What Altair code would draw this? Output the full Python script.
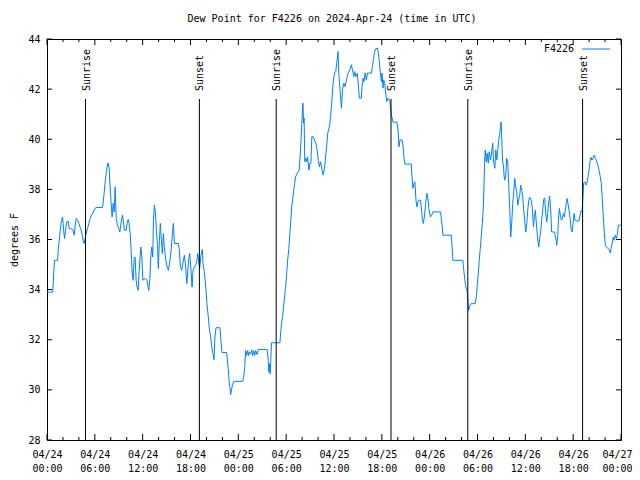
import altair as alt
import pandas as pd

# ---- data (minutes since midnight UTC of each day, dew point F) ----
day1_minutes = [0,42,47,52,57,80,85,92,100,107,117,125,132,140,147,160,167,192,200,205,212,220,230,240,250,258,265,273,280,288,295,305,315,325,335,345,355,368,418,423,430,438,445,453,460,468,475,483,490,498,506,513,521,530,541,548,558,568,575,583,596,603,611,618,626,633,641,648,656,663,671,678,686,693,701,706,714,721,731,751,759,766,774,781,789,796,801,808,816,823,831,838,846,853,861,868,876,883,894,904,914,924,934,944,951,959,989,996,1004,1014,1024,1034,1044,1052,1059,1067,1074,1082,1092,1099,1109,1122,1131,1134,1149,1159,1169,1174,1182,1189,1197,1204,1214,1222,1232,1240,1249,1257,1264,1272,1302,1309,1317,1352,1357,1364,1370,1377,1382,1390,1397,1407]
day1_values = [33.90,33.90,34.24,34.84,35.17,35.17,35.64,35.97,36.37,36.70,36.90,36.37,36.04,36.37,36.70,36.73,36.44,36.41,36.30,36.17,36.57,36.84,36.77,36.64,36.48,36.37,36.17,35.94,35.84,36.08,36.24,36.44,36.64,36.84,36.97,37.06,37.17,37.28,37.28,37.50,37.84,38.30,38.64,38.90,39.06,38.84,38.10,37.44,36.90,37.44,37.10,38.10,36.84,36.57,36.44,36.30,36.70,36.97,36.70,36.37,36.37,36.64,36.80,36.64,36.24,35.57,34.70,34.37,35.24,35.30,34.37,34.10,33.97,34.70,35.30,35.70,35.30,34.37,34.44,34.40,34.17,33.97,34.44,35.30,35.70,35.30,36.77,37.37,37.10,36.37,35.84,34.84,35.97,36.64,35.97,35.44,36.24,35.70,35.17,34.90,34.77,35.10,35.57,36.24,36.64,35.84,35.84,35.57,34.90,34.77,35.10,35.37,34.90,34.24,34.70,35.24,35.44,34.90,34.10,34.77,34.90,35.01,35.24,35.44,34.84,35.37,35.60,35.04,34.77,34.44,33.97,33.44,32.90,32.44,32.10,31.70,31.44,31.20,32.10,32.48,32.48,31.97,31.49,31.49,31.24,30.84,30.37,30.10,29.81,30.04,30.21,30.34]

day2_minutes = [33,40,48,55,63,70,78,85,93,100,108,115,123,130,140,150,217,225,230,235,240,245,250,313,320,328,333,340,348,355,363,370,380,388,395,403,413,420,431,443,458,468,478,486,491,495,500,508,516,521,531,538,546,553,563,573,583,593,603,611,618,626,638,646,653,663,673,688,701,713,724,733,751,756,776,784,794,803,814,826,839,851,859,869,876,884,896,906,911,926,931,939,946,954,964,972,1002,1009,1017,1024,1032,1047,1054,1062,1069,1077,1081,1089,1094,1102,1109,1117,1126,1139,1152,1164,1194,1202,1209,1217,1232,1239,1247,1254,1302,1307,1314,1322,1329,1337,1344,1355,1370,1377,1385,1392,1400,1410,1419,1427,1434]
day2_values = [30.34,30.50,30.90,31.57,31.37,31.57,31.37,31.50,31.44,31.60,31.37,31.57,31.37,31.57,31.41,31.61,31.61,31.17,30.70,31.04,30.64,31.30,31.88,31.88,32.37,32.77,32.90,33.30,33.70,34.04,34.57,35.10,35.64,36.24,36.77,37.37,37.77,38.10,38.50,38.64,38.77,39.57,40.64,41.44,40.64,40.84,39.10,39.24,39.10,39.30,38.77,39.04,39.04,40.10,40.10,39.97,39.84,39.57,39.10,38.90,39.10,38.90,38.57,38.77,39.10,39.64,40.24,40.57,41.30,42.24,42.64,42.70,43.50,42.64,41.24,41.97,42.24,42.10,42.37,42.64,42.77,42.97,42.77,42.50,42.70,42.50,42.64,41.97,41.64,41.64,42.10,42.44,42.30,42.64,42.37,42.64,42.64,42.90,43.17,43.44,43.60,43.64,43.44,43.04,42.64,42.30,42.64,42.04,42.37,42.24,41.84,41.50,41.64,41.57,40.97,40.68,40.68,40.37,39.70,39.97,39.97,39.77,39.24,39.01,39.01,38.50,38.04,38.24,38.30,37.57,37.30,37.57,37.57,37.30,36.84,36.64,36.90,37.44,37.84,37.64,37.24]

day3_minutes = [5,15,25,82,95,100,163,175,250,255,270,283,293,303,313,343,351,358,366,373,381,388,396,403,408,413,418,426,433,441,448,458,468,475,480,490,498,505,513,520,528,533,538,543,548,556,561,565,573,580,588,595,603,610,618,625,633,640,648,655,663,670,678,685,693,701,708,716,723,731,738,746,753,764,773,781,788,796,801,809,816,821,828,836,843,851,858,866,873,881,888,896,903,911,918,941,946,952,956,964,969,976,984,991,999,1006,1014,1021,1029,1034,1041,1049,1057,1064,1072,1079,1087,1094,1102,1124,1132,1139,1147,1154,1159,1169,1177,1184,1192,1199,1207,1214,1222,1229,1239,1247,1254,1262,1269,1277,1284,1292,1299,1307,1314,1322,1332,1342,1352,1360,1367,1375,1382,1390,1397,1405,1412,1420,1440]
day3_values = [36.90,36.97,37.10,37.10,36.50,36.17,36.17,35.17,35.17,34.84,34.17,33.90,33.17,33.37,33.44,33.44,33.70,34.17,34.64,35.17,35.64,36.10,36.64,37.17,37.97,39.04,39.57,39.10,39.44,39.04,39.50,39.17,39.57,39.84,39.17,38.84,39.57,39.17,39.57,39.97,40.24,40.51,40.70,39.97,39.17,38.90,38.50,38.37,38.57,39.24,39.04,38.17,37.17,36.10,36.70,37.44,37.90,38.44,38.10,37.90,37.37,37.57,37.77,38.17,37.97,37.70,37.17,36.70,36.30,36.64,37.17,37.57,37.68,37.57,37.24,36.50,36.90,37.17,36.77,36.24,35.90,35.70,36.04,36.30,36.77,37.17,37.60,37.66,37.04,36.70,37.04,37.50,37.73,37.17,36.30,36.30,36.10,35.97,35.77,36.10,36.77,37.24,36.97,36.77,36.84,37.04,36.90,37.17,37.44,37.64,37.44,37.17,36.84,36.44,36.30,36.64,37.04,36.77,36.74,36.74,36.97,37.14,37.10,37.77,38.26,38.30,38.17,38.26,38.50,38.77,39.10,39.28,39.17,39.24,39.37,39.24,39.17,39.04,38.90,38.70,38.50,38.24,37.64,36.90,36.30,35.77,35.70,35.64,35.57,35.46,35.70,35.90,36.10,35.97,36.17,36.04,36.17,36.57,36.57]

event_days = [0, 0, 1, 1, 2, 2]
event_times = ["04:50", "19:07", "04:45", "19:09", "04:47", "19:11"]
event_labels = ["Sunrise", "Sunset", "Sunrise", "Sunset", "Sunrise", "Sunset"]

x_major = list(range(0, 73, 6))          # hours, labelled
x_minor = [h for h in range(0, 73, 2) if h % 6]
y_ticks = list(range(28, 45, 2))

series_name = "F4226"
title_text = "Dew Point for F4226 on 2024-Apr-24 (time in UTC)"

# ---- build tables ----
rows = []
for d, (ms, vs) in enumerate([(day1_minutes, day1_values), (day2_minutes, day2_values), (day3_minutes, day3_values)]):
    for m, v in zip(ms, vs):
        rows.append({"h": (d * 1440 + m) / 60.0, "dp": v})
df = pd.DataFrame(rows)

ev = pd.DataFrame({
    "h": [d * 24 + int(t[:2]) + int(t[3:]) / 60.0 for d, t in zip(event_days, event_times)],
    "label": event_labels,
})
major_df = pd.DataFrame({"h": x_major})
minor_df = pd.DataFrame({"h": x_minor})
yt_df = pd.DataFrame({"dp": y_ticks})

W, H = 574, 401
FONT = "DejaVu Sans Mono"
LINE = "#0080ff"
xs = alt.Scale(domain=[0, 72], nice=False, zero=False)
ys = alt.Scale(domain=[28, 44], nice=False, zero=False)

label_expr = ("['04/' + (24 + floor(datum.value / 24)), "
              "(datum.value % 24 < 10 ? '0' : '') + (datum.value % 24) + ':00']")

x_axis = alt.Axis(
    values=x_major, ticks=False, domain=False, grid=False, title=None,
    labelExpr=label_expr, labelFlush=False, labelOverlap=False, labelBound=False,
    labelPadding=9, labelLineHeight=14, labelBaseline="top", labelAlign="center",
    labelOffset=alt.ExprRef("datum.value >= 72 ? -4 : 0"),
    labelFont=FONT, labelFontSize=10, labelColor="black")
y_axis = alt.Axis(
    values=y_ticks, ticks=False, domain=False, grid=False, title="degrees F",
    labelPadding=7, labelFont=FONT, labelFontSize=10, labelColor="black",
    labelOverlap=False, labelFlush=False, labelBound=False,
    titleX=-33, titleY=H / 2, titleAngle=270, titleAlign="center", titleBaseline="middle",
    titleFont=FONT, titleFontSize=10, titleFontWeight="normal", titleColor="black")

X = alt.X("h:Q", scale=xs, axis=x_axis)
Y = alt.Y("dp:Q", scale=ys, axis=y_axis)

line = alt.Chart(df).mark_line(color=LINE, strokeWidth=1).encode(x=X, y=Y)

tick_layers = [
    alt.Chart(major_df).mark_rule(color="black").encode(x=X, y=alt.value(H), y2=alt.value(H - 6)),
    alt.Chart(major_df).mark_rule(color="black").encode(x=X, y=alt.value(0), y2=alt.value(6)),
    alt.Chart(minor_df).mark_rule(color="black").encode(x=X, y=alt.value(H), y2=alt.value(H - 3)),
    alt.Chart(minor_df).mark_rule(color="black").encode(x=X, y=alt.value(0), y2=alt.value(3)),
    alt.Chart(yt_df).mark_rule(color="black").encode(y=Y, x=alt.value(0), x2=alt.value(5)),
    alt.Chart(yt_df).mark_rule(color="black").encode(y=Y, x=alt.value(W), x2=alt.value(W - 5)),
]

sun_rules = alt.Chart(ev).mark_rule(color="black", strokeWidth=1).encode(
    x=X, y=alt.value(H), y2=alt.value(60))
sun_text = alt.Chart(ev).mark_text(angle=270, align="left", baseline="middle",
                                   font=FONT, fontSize=10, color="black", dy=1).encode(
    x=X, y=alt.value(52), text="label:N")

leg_df = pd.DataFrame({"name": [series_name], "t": [title_text]})
leg_text = alt.Chart(leg_df).mark_text(align="right", baseline="middle", font=FONT,
                                       fontSize=10, color="black").encode(
    x=alt.value(527), y=alt.value(10), text="name:N")
leg_line = alt.Chart(leg_df).mark_rule(color=LINE, strokeWidth=1).encode(
    x=alt.value(535), x2=alt.value(563), y=alt.value(10))
title_mark = alt.Chart(leg_df).mark_text(align="center", baseline="middle", font=FONT,
                                         fontSize=10, color="black").encode(
    x=alt.value(W / 2 - 2), y=alt.value(-20), text="t:N")

chart = alt.layer(line, *tick_layers, sun_rules, sun_text, leg_line, leg_text, title_mark).properties(
    width=W, height=H,
    padding={"left": 39, "top": 31, "right": 11, "bottom": 32},
    autosize=alt.AutoSizeParams(type="none"),
    background="white",
).configure_view(stroke="black", strokeWidth=1)

chart.save("out.html", embed_options={"renderer": "svg", "actions": False})
